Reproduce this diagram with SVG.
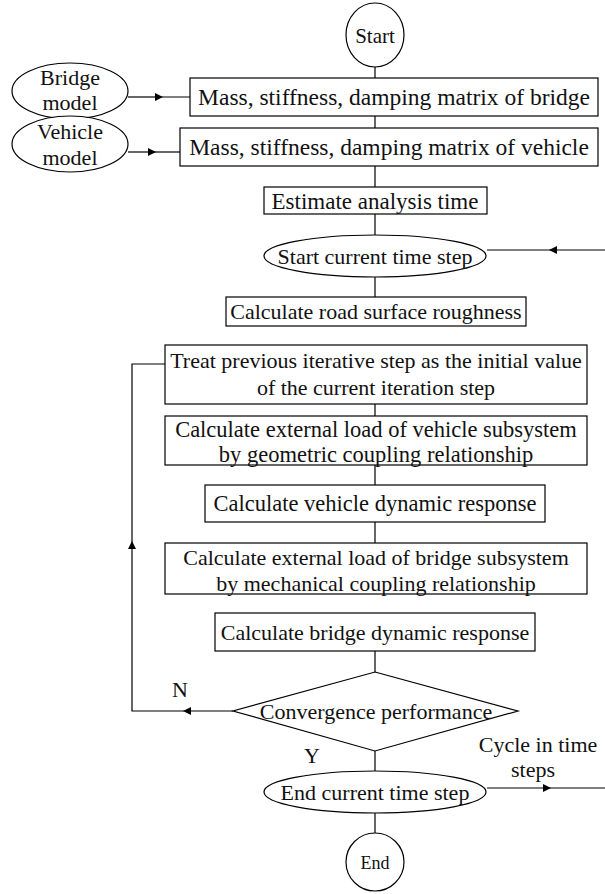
<svg xmlns="http://www.w3.org/2000/svg" width="605" height="894" viewBox="0 0 605 894">
<defs>
<marker id="ah" viewBox="0 0 10 10" refX="5" refY="5" markerWidth="10" markerHeight="8" orient="auto" markerUnits="userSpaceOnUse">
<path d="M0,0 L10,5 L0,10 z" fill="#000"/>
</marker>
<style>
.s{fill:#fff;stroke:#000;stroke-width:1.2}
.c{fill:none;stroke:#000;stroke-width:1.2}
text{font-family:"Liberation Serif","Times New Roman",serif;font-size:22px;fill:#111;text-anchor:middle}
.big{font-size:23.5px}
.m{font-size:22.5px}
</style>
</defs>
<rect width="605" height="894" fill="#fff"/>
<g id="connectors">
<line class="c" x1="375" y1="67" x2="375" y2="78"/>
<line class="c" x1="375" y1="116" x2="375" y2="128"/>
<line class="c" x1="375" y1="166" x2="375" y2="187"/>
<line class="c" x1="375" y1="214" x2="375" y2="236"/>
<line class="c" x1="375" y1="277" x2="375" y2="297"/>
<line class="c" x1="375" y1="404" x2="375" y2="416"/>
<line class="c" x1="375" y1="465" x2="375" y2="485"/>
<line class="c" x1="375" y1="522" x2="375" y2="543"/>
<line class="c" x1="375" y1="651" x2="375" y2="672"/>
<line class="c" x1="375" y1="751" x2="375" y2="771"/>
<line class="c" x1="375" y1="812" x2="375" y2="833"/>
<path class="c" d="M128,97 L159,97" marker-end="url(#ah)"/>
<path class="c" d="M155,97 L190,97"/>
<path class="c" d="M128,152 L152,152" marker-end="url(#ah)"/>
<path class="c" d="M148,152 L180,152"/>
<path class="c" d="M605,250 L553,250" marker-end="url(#ah)"/>
<path class="c" d="M557,250 L487,250"/>
<path class="c" d="M233,711 L187,711" marker-end="url(#ah)"/>
<path class="c" d="M191,711 L132,711 L132,545" marker-end="url(#ah)"/>
<path class="c" d="M132,549 L132,364 L165,364"/>
<path class="c" d="M487,788 L547,788" marker-end="url(#ah)"/>
<path class="c" d="M543,788 L605,788"/>
<text x="180" y="697">N</text>
<text x="312" y="763">Y</text>
<text x="538" y="752">Cycle in time</text>
<text x="533" y="777">steps</text>
</g>
<g id="start"><ellipse class="s" cx="375" cy="35" rx="29" ry="32"/><text x="375" y="43" style="font-size:21px">Start</text></g>
<g id="bridge-model"><ellipse class="s" cx="70" cy="91" rx="58" ry="28"/><text x="70" y="85">Bridge</text><text x="70" y="110">model</text></g>
<g id="vehicle-model"><ellipse class="s" cx="70" cy="144" rx="58" ry="28"/><text x="70" y="139">Vehicle</text><text x="70" y="165">model</text></g>
<g id="bridge-matrix"><rect class="s" x="190" y="78" width="408" height="38"/><text class="big" x="394" y="105">Mass, stiffness, damping matrix of bridge</text></g>
<g id="vehicle-matrix"><rect class="s" x="180" y="128" width="418" height="38"/><text class="big" x="389" y="155">Mass, stiffness, damping matrix of vehicle</text></g>
<g id="estimate"><rect class="s" x="264" y="187" width="223" height="27"/><text style="font-size:23px" x="375" y="209">Estimate analysis time</text></g>
<g id="start-step"><ellipse class="s" cx="375" cy="256" rx="111" ry="21"/><text x="375" y="264">Start current time step</text></g>
<g id="roughness"><rect class="s" x="226" y="297" width="300" height="29"/><text x="376" y="319">Calculate road surface roughness</text></g>
<g id="treat"><rect class="s" x="165" y="345" width="422" height="59"/><text x="376" y="368">Treat previous iterative step as the initial value</text><text x="376" y="395">of the current iteration step</text></g>
<g id="ext-vehicle"><rect class="s" x="165" y="416" width="422" height="49"/><text class="m" x="376" y="437">Calculate external load of vehicle subsystem</text><text class="m" x="376" y="462">by geometric coupling relationship</text></g>
<g id="vehicle-resp"><rect class="s" x="205" y="485" width="340" height="37"/><text class="m" x="375" y="511">Calculate vehicle dynamic response</text></g>
<g id="ext-bridge"><rect class="s" x="165" y="543" width="422" height="51"/><text x="376" y="565">Calculate external load of bridge subsystem</text><text x="376" y="591">by mechanical coupling relationship</text></g>
<g id="bridge-resp"><rect class="s" x="215" y="613" width="320" height="38"/><text x="375" y="640">Calculate bridge dynamic response</text></g>
<g id="convergence"><polygon class="s" points="375,672 518,711 375,751 233,711"/><text x="376" y="719">Convergence performance</text></g>
<g id="end-step"><ellipse class="s" cx="375" cy="792" rx="111" ry="21"/><text x="375" y="800">End current time step</text></g>
<g id="end"><ellipse class="s" cx="375" cy="862" rx="29" ry="29"/><text x="375" y="869" style="font-size:18px">End</text></g>
</svg>
